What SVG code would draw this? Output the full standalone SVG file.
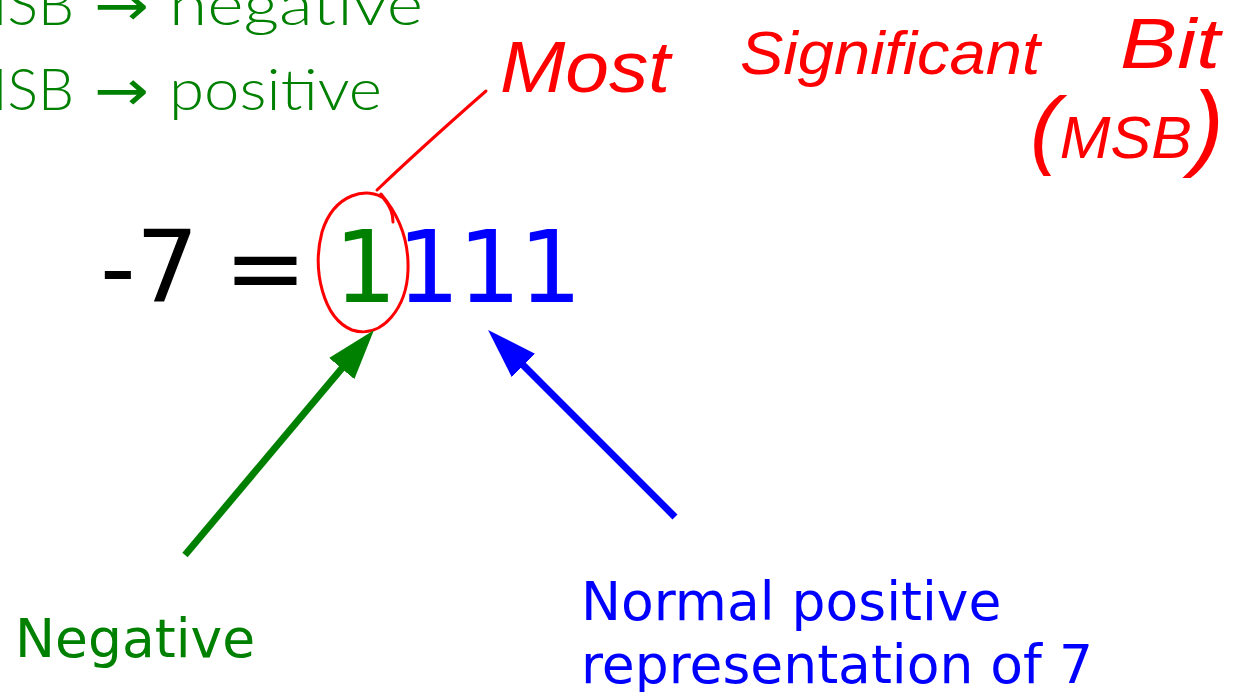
<svg xmlns="http://www.w3.org/2000/svg" width="1237" height="692" viewBox="0 0 1237 692">
  <style>
    .rule { font-family: "Lato", "DejaVu Sans", sans-serif; font-weight: 300; font-size: 57px; fill: #008000; }
    .arr { font-family: "DejaVu Sans", sans-serif; font-size: 57px; fill: #008000; }
    .hand { font-family: "Liberation Sans", "DejaVu Sans", sans-serif; font-style: italic; fill: #ff0000; }
    .eq { font-family: "DejaVu Sans", sans-serif; font-size: 99px; }
    .lbl { font-family: "DejaVu Sans", sans-serif; font-size: 53.5px; }
    .red { fill: none; stroke: #ff0000; stroke-width: 3; stroke-linecap: round; stroke-linejoin: round; }
  </style>
  <defs>
    <marker id="headG" markerUnits="userSpaceOnUse" markerWidth="52" markerHeight="34" refX="2" refY="16.5" orient="auto">
      <path d="M0,0 L50,16.5 L0,33 z" fill="#008000"/>
    </marker>
    <marker id="headB" markerUnits="userSpaceOnUse" markerWidth="52" markerHeight="34" refX="2" refY="16.5" orient="auto">
      <path d="M0,0 L50,16.5 L0,33 z" fill="#0000ff"/>
    </marker>
  </defs>
  <rect width="1237" height="692" fill="#ffffff"/>

  <g id="msb-rules">
    <text class="rule" x="74" y="25" text-anchor="end">MSB</text>
    <text class="arr" x="94" y="25" textLength="55" lengthAdjust="spacingAndGlyphs">→</text>
    <text class="rule" x="169" y="25" textLength="254" lengthAdjust="spacingAndGlyphs">negative</text>
    <text class="rule" x="74" y="110" text-anchor="end">MSB</text>
    <text class="arr" x="94" y="110" textLength="55" lengthAdjust="spacingAndGlyphs">→</text>
    <text class="rule" x="169" y="110" textLength="213" lengthAdjust="spacingAndGlyphs">positive</text>
  </g>

  <g id="msb-annotation">
    <text class="hand" x="500" y="92" font-size="72" textLength="170" lengthAdjust="spacingAndGlyphs">Most</text>
    <text class="hand" x="740" y="74" font-size="62" textLength="300" lengthAdjust="spacingAndGlyphs">Significant</text>
    <text class="hand" x="1120" y="68" font-size="70" textLength="100" lengthAdjust="spacingAndGlyphs">Bit</text>
    <text class="hand" x="1030" y="158" font-size="60" textLength="194" lengthAdjust="spacingAndGlyphs"><tspan font-size="88">(</tspan>MSB<tspan font-size="95">)</tspan></text>
  </g>

  <g id="equation">
    <text class="eq" y="302"><tspan x="100" fill="#000000">-7</tspan><tspan x="224" fill="#000000">=</tspan><tspan x="334" fill="#008000">1</tspan><tspan x="397 458 519" fill="#0000ff">111</tspan></text>
  </g>

  <g id="msb-circle">
    <path class="red" d="M 385,199 C 368,186 334,193 322,232 C 312,270 323,318 352,330 C 383,340 407,306 408,270 C 409,240 398,214 381,194"/>
    <path class="red" d="M 384,199 C 390,206 393,213 393,222"/>
  </g>

  <g id="label-negative">
    <text class="lbl" x="15" y="657" fill="#008000">Negative</text>
  </g>

  <g id="label-positive">
    <text class="lbl" fill="#0000ff"><tspan x="581" y="620">Normal positive</tspan><tspan x="581" y="683">representation of 7</tspan></text>
  </g>

  <g id="connectors">
    <path class="red" d="M 486,91 Q 421,148 377,190"/>
    <line x1="185" y1="555" x2="343" y2="367" stroke="#008000" stroke-width="7" marker-end="url(#headG)"/>
    <line x1="675" y1="517" x2="522" y2="364" stroke="#0000ff" stroke-width="7" marker-end="url(#headB)"/>
  </g>
</svg>
